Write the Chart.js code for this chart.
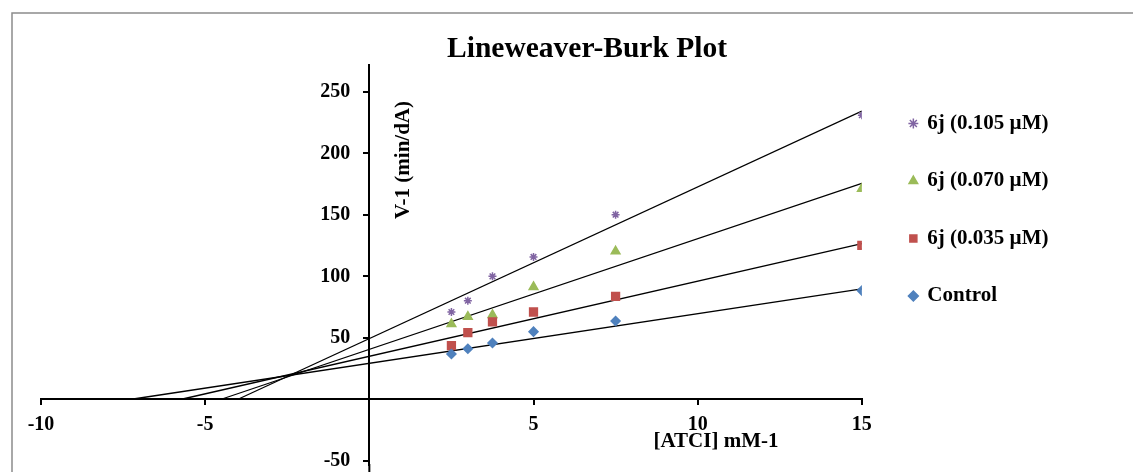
<!DOCTYPE html>
<html>
<head>
<meta charset="utf-8">
<script src="https://cdn.jsdelivr.net/npm/chart.js@4.4.1/dist/chart.umd.min.js"></script>
<style>
  html, body { margin: 0; padding: 0; background: #fff; }
  #wrap { width: 1133px; height: 472px; position: relative; }
</style>
</head>
<body>
<div id="wrap"><canvas id="lbChart"></canvas></div>
<script>
// 1/[S] values (mM-1)
const substrateInv = [2.5, 3, 3.75, 5, 7.5, 15];

// 1/V values for each inhibitor concentration
const controlVals = [36.8, 41.1, 45.8, 55.0, 63.7, 88.4];
const conc035Vals = [43.6, 54.2, 62.9, 71.0, 83.7, 125.2];
const conc070Vals = [61.2, 67.2, 68.6, 91.4, 120.4, 171.2];
const conc105Vals = [71.0, 80.2, 100.0, 115.8, 150.2, 231.1];

// trendlines: x-axis crossing (forecast backward) and value at x = 15
const trendStartX = [-7.24, -5.72, -4.51, -4.0];
const trendEndY = [89.9, 126.6, 175.7, 234.4];
const trendEndX = 15;

const seriesNames = ['Control', '6j (0.035 µM)', '6j (0.070 µM)', '6j (0.105 µM)'];
const xTicks = [-10, -5, 5, 10, 15];
const yTicks = [-50, 50, 100, 150, 200, 250];

const serif = "'Liberation Serif', 'Times New Roman', serif";

function points(vals) {
    return substrateInv.map((x, i) => ({ x: x, y: vals[i] }));
}

const markers = [
    { color: '#4F81BD', style: 'rectRot', r: 4.5 },
    { color: '#C0504D', style: 'rect', r: 5.5 },
    { color: '#9BBB59', style: 'triangle', r: 5 },
    { color: '#8064A2', style: 'star', r: 4 }
];

const allVals = [controlVals, conc035Vals, conc070Vals, conc105Vals];

const datasets = allVals.map((vals, i) => ({
    label: seriesNames[i],
    data: points(vals),
    backgroundColor: markers[i].color,
    borderColor: markers[i].color,
    pointStyle: markers[i].style,
    pointRadius: markers[i].r,
    pointHoverRadius: markers[i].r,
    borderWidth: 1.5,
    showLine: false,
    order: 1
}));

trendStartX.forEach((x0, i) => {
    datasets.push({
        label: 'trend' + i,
        type: 'line',
        data: [{ x: x0, y: 0 }, { x: trendEndX, y: trendEndY[i] }],
        borderColor: '#000',
        borderWidth: 1.3,
        pointRadius: 0,
        fill: false,
        order: 2
    });
});

const frameAndText = {
    id: 'frameAndText',
    beforeDraw(chart) {
        const c = chart.ctx;
        c.save();
        c.fillStyle = '#fff';
        c.fillRect(0, 0, chart.width, chart.height);
        c.strokeStyle = '#8c8c8c';
        c.lineWidth = 1.5;
        c.strokeRect(12, 13, 1300, 700);
        c.restore();
    },
    afterLayout(chart) {
        // nudge legend toward the Excel placement
        const lg = chart.legend;
        lg.left += 11.5; lg.right += 11.5;
        lg.top += 11.5; lg.bottom += 11.5;
    },
    afterDraw(chart) {
        const c = chart.ctx;
        c.save();
        // the value axis runs on past the plot edge in the cropped original
        const x0 = chart.scales.x.getPixelForValue(0);
        c.strokeStyle = '#000';
        c.lineWidth = 2;
        c.beginPath();
        c.moveTo(x0, chart.chartArea.bottom - 1);
        c.lineTo(x0, chart.height);
        c.stroke();

        c.fillStyle = '#000';
        c.textAlign = 'center';
        c.textBaseline = 'alphabetic';
        c.font = 'bold 29.5px ' + serif;
        c.fillText('Lineweaver-Burk Plot', 587, 57);

        c.font = 'bold 21px ' + serif;
        c.textBaseline = 'middle';
        c.fillText('[ATCI] mM-1', 716, 442);

        c.translate(404, 160);
        c.rotate(-Math.PI / 2);
        c.fillText('V-1 (min/dA)', 0, 0);
        c.restore();
    }
};

new Chart(document.getElementById('lbChart'), {
    type: 'scatter',
    data: { datasets: datasets },
    options: {
        responsive: true,
        maintainAspectRatio: false,
        animation: false,
        layout: { padding: { left: 41, right: 86, top: 65, bottom: 0 } },
        plugins: {
            tooltip: { enabled: false },
            title: { display: false },
            legend: {
                position: 'right',
                align: 'start',
                reverse: true,
                labels: {
                    usePointStyle: true,
                    boxWidth: 7,
                    boxHeight: 7,
                    padding: 36.5,
                    color: '#000',
                    font: { family: serif, size: 21, weight: 'bold' },
                    filter: item => !item.text.startsWith('trend')
                }
            }
        },
        scales: {
            x: {
                type: 'linear',
                position: { y: 0 },
                min: -10,
                max: 15,
                afterBuildTicks: axis => { axis.ticks = xTicks.map(v => ({ value: v })); },
                grid: { display: true, drawOnChartArea: false, drawTicks: true, tickLength: 5, color: '#000', lineWidth: 2 },
                border: { display: true, color: '#000', width: 2 },
                ticks: {
                    color: '#000',
                    padding: 9,
                    maxRotation: 0,
                    font: { family: serif, size: 20, weight: 'bold' }
                }
            },
            y: {
                type: 'linear',
                position: { x: 0 },
                min: -53.5,
                max: 272,
                afterBuildTicks: axis => { axis.ticks = yTicks.map(v => ({ value: v })); },
                afterFit: axis => { axis.paddingTop = 0; axis.paddingBottom = 0; },
                grid: { display: true, drawOnChartArea: false, drawTicks: true, tickLength: 5, color: '#000', lineWidth: 2 },
                border: { display: true, color: '#000', width: 2 },
                ticks: {
                    color: '#000',
                    // labels sit right-aligned on the axis line; trailing spaces give the gap
                    callback: v => v + '   \u2009',
                    font: { family: serif, size: 20, weight: 'bold' }
                }
            }
        }
    },
    plugins: [frameAndText]
});
</script>
</body>
</html>
